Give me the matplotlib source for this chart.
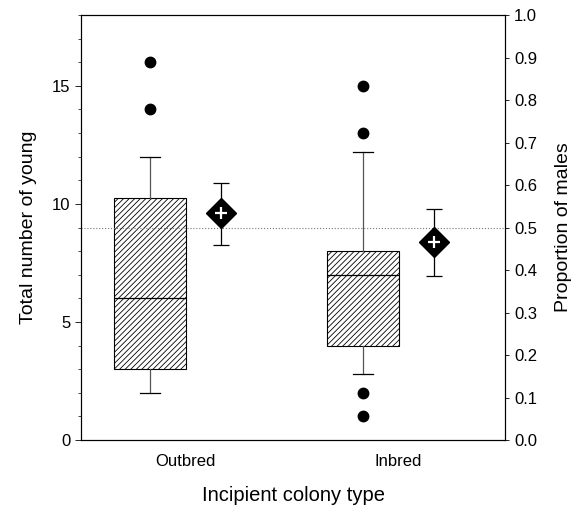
import matplotlib
matplotlib.use("Agg")
import matplotlib.pyplot as plt
from matplotlib.ticker import MultipleLocator

plt.rcParams['font.family'] = ['Liberation Sans', 'DejaVu Sans']
plt.rcParams['hatch.linewidth'] = 0.6

# data
categories = ["Outbred", "Inbred"]
q1 = [3.0, 4.0]
med = [6.0, 7.0]
q3 = [10.25, 8.0]
whislo = [2.0, 2.8]
whishi = [12.0, 12.2]
fliers = [[16, 14], [15, 13, 2, 1]]

prop_mean = [0.535, 0.467]
prop_lo = [0.458, 0.386]
prop_hi = [0.605, 0.543]

box_pos = [1.0, 2.0]
dia_pos = [p + 0.333 for p in box_pos]
tick_pos = [p + 0.167 for p in box_pos]

fig = plt.figure(figsize=(5.85, 5.2), dpi=100)
ax = fig.add_axes([0.1385, 0.1538, 0.7248, 0.8173])

stats = []
for i in range(len(categories)):
    stats.append(dict(med=med[i], q1=q1[i], q3=q3[i], whislo=whislo[i],
                      whishi=whishi[i], fliers=fliers[i], label=categories[i]))

bp = ax.bxp(stats, positions=box_pos, widths=0.338, patch_artist=True,
            boxprops=dict(facecolor='white', edgecolor='black', linewidth=0.8, hatch='//////'),
            medianprops=dict(color='black', linewidth=0.9),
            whiskerprops=dict(color='#555555', linewidth=0.9),
            capprops=dict(color='black', linewidth=0.9),
            flierprops=dict(marker='o', markerfacecolor='black', markeredgecolor='black', markersize=7.5),
            capwidths=0.095, manage_ticks=False)

ax.set_xlim(0.676, 2.667)
ax.set_ylim(0, 18)
ax.set_yticks([0, 5, 10, 15])
ax.yaxis.set_minor_locator(MultipleLocator(1))
ax.tick_params(axis='y', which='major', length=4, width=0.6, labelsize=12)
ax.tick_params(axis='y', which='minor', length=2, width=0.5)
ax.set_xticks(tick_pos)
ax.set_xticklabels(categories)
ax.tick_params(axis='x', length=0, labelsize=12, pad=10)
ax.set_ylabel("Total number of young", fontsize=14, labelpad=11)
ax.set_xlabel("Incipient colony type", fontsize=14.5, labelpad=12)
for s in ax.spines.values():
    s.set_linewidth(0.8)

ax2 = ax.twinx()
ax2.set_ylim(0, 1)
ax2.set_yticks([i / 10 for i in range(11)])
ax2.set_yticklabels([f"{i / 10:.1f}" for i in range(11)])
ax2.tick_params(axis='y', length=3, width=0.6, labelsize=12)
ax2.set_ylabel("Proportion of males", fontsize=14, labelpad=13)
ax2.axhline(0.5, color='#777777', linestyle=':', linewidth=0.8, zorder=0)

for i in range(len(categories)):
    ax2.errorbar(dia_pos[i], prop_mean[i],
                 yerr=[[prop_mean[i] - prop_lo[i]], [prop_hi[i] - prop_mean[i]]],
                 fmt='none', ecolor='black', elinewidth=0.9, capsize=5.5, capthick=0.9)
    ax2.plot(dia_pos[i], prop_mean[i], marker='D', markersize=15, color='black')
    ax2.plot(dia_pos[i], prop_mean[i], marker='+', markersize=8, color='white', markeredgewidth=1.6)

fig.savefig("out.png", dpi=100)
